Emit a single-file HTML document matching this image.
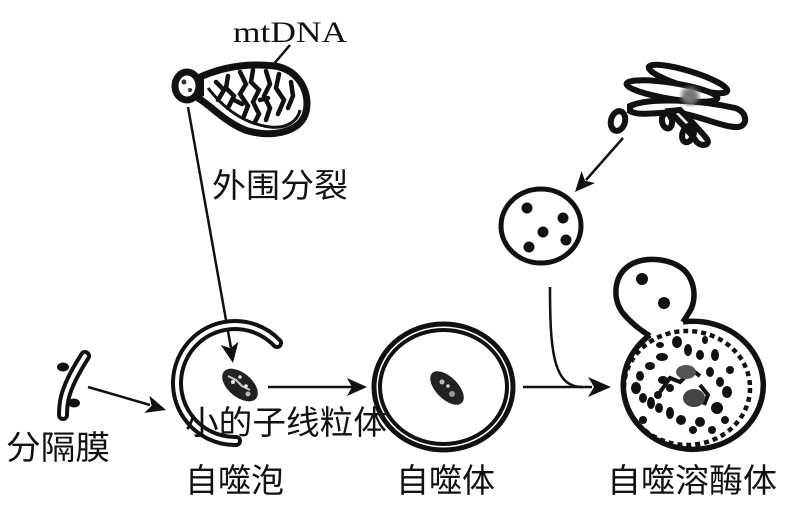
<!DOCTYPE html>
<html><head><meta charset="utf-8"><style>
html,body{margin:0;padding:0;background:#fff;}
svg{display:block;}
.cj{font-family:"Liberation Sans","Noto Sans CJK SC",sans-serif;font-size:33px;fill:#111;}
</style></head><body>
<svg width="785" height="509" viewBox="0 0 785 509" xmlns="http://www.w3.org/2000/svg">
<defs><filter id="bl2"><feGaussianBlur stdDeviation="2.5"/></filter></defs>

<!-- mtDNA label -->
<text x="233" y="42" textLength="114" lengthAdjust="spacingAndGlyphs" style="font-family:'Liberation Serif',serif;font-size:30px;fill:#111">mtDNA</text>
<line x1="290" y1="45" x2="267" y2="72" stroke="#111" stroke-width="2.5"/>

<!-- Mitochondrion -->
<g>
<path d="M198 78 C215 70 240 62 275 66 C300 70 312 95 305 115 C298 133 270 138 245 130 C225 122 210 105 198 98 Z" fill="#fff" stroke="#111" stroke-width="7"/>
<path d="M208 88 C225 110 245 124 270 127 C288 129 298 120 300 110" fill="none" stroke="#111" stroke-width="3"/>
<g stroke="#111" stroke-width="4.5" fill="none" stroke-linecap="round">
<path d="M216 82 L224 90 L218 100"/>
<path d="M228 76 L226 88 L234 96 L228 108"/>
<path d="M240 72 L246 84 L240 94 L248 106 L244 116"/>
<path d="M253 70 L251 82 L259 90 L253 102 L259 114 L255 122"/>
<path d="M266 71 L270 84 L264 96 L270 108 L266 120"/>
<path d="M279 74 L276 88 L284 100 L278 114"/>
<path d="M291 82 L293 96 L288 108"/>
<path d="M234 100 L242 104"/><path d="M260 100 L268 98"/>
</g>
<ellipse cx="187" cy="86" rx="12" ry="14" fill="#fff" stroke="#111" stroke-width="7"/>
<path d="M196 76 L204 79 L204 96 L196 99" fill="#111"/>
<circle cx="184" cy="82" r="2.5" fill="#333"/><circle cx="190" cy="90" r="2" fill="#333"/>
</g>
<line x1="188" y1="107" x2="231" y2="348" stroke="#111" stroke-width="2.5"/>
<polygon points="233,363 238.4,341.7 230.4,348.2 220.7,344.9" fill="#111"/>

<text class="cj" x="212" y="197" textLength="136" lengthAdjust="spacingAndGlyphs">外围分裂</text>

<!-- Golgi -->
<g fill="none" stroke="#111" stroke-width="6">
<ellipse cx="688" cy="79" rx="41" ry="8" transform="rotate(17 688 79)" fill="#fff"/>
<ellipse cx="672" cy="91" rx="46" ry="8" transform="rotate(9 672 91)" fill="#fff"/>
<path d="M630 106 C650 97 700 100 735 108 C748 112 748 126 738 127 C725 128 700 116 680 113 C660 111 640 117 630 111 Z" fill="#fff"/>
<path d="M680 110 C690 120 700 130 707 139 C711 146 700 147 696 141 C688 129 676 119 670 111 Z" fill="#fff"/>
<ellipse cx="618" cy="121" rx="7" ry="10" transform="rotate(15 618 121)"/>
<ellipse cx="667" cy="121" rx="5" ry="7.5" transform="rotate(-10 667 121)"/>
<ellipse cx="688" cy="134" rx="5.5" ry="8.5" transform="rotate(20 688 134)"/>
</g>
<circle cx="690" cy="96" r="9" fill="#777" filter="url(#bl2)"/>
<line x1="623" y1="138" x2="586" y2="180" stroke="#111" stroke-width="2.5"/>
<polygon points="575,192 581.6,171 585,180.8 595,183" fill="#111"/>

<!-- Lysosome -->
<ellipse cx="541" cy="226" rx="40" ry="37" fill="#fff" stroke="#111" stroke-width="5"/>
<circle cx="527" cy="208" r="5.5" fill="#111"/><circle cx="563" cy="218" r="5.5" fill="#111"/>
<circle cx="543" cy="232" r="5.5" fill="#111"/><circle cx="566" cy="240" r="5.5" fill="#111"/>
<circle cx="529" cy="247" r="5.5" fill="#111"/>

<!-- curve from lysosome -->
<path d="M550 287 C550 350 553 387 582 387" fill="none" stroke="#111" stroke-width="2.5"/>

<!-- isolation membrane fragment -->
<g>
<path d="M85 356 C76 370 68 385 65 397 C63 405 63 411 63 415" fill="none" stroke="#111" stroke-width="12" stroke-linecap="round"/>
<path d="M85 356 C76 370 68 385 65 397 C63 405 63 411 63 415" fill="none" stroke="#fff" stroke-width="4" stroke-linecap="round"/>
<ellipse cx="63" cy="367" rx="6" ry="4.5" fill="#111"/>
<ellipse cx="74" cy="403" rx="6" ry="4.5" fill="#111"/>
</g>
<line x1="88" y1="387" x2="150" y2="405" stroke="#111" stroke-width="2.5"/>
<polygon points="166,410 149.4,395.7 151.6,405.8 144.3,412.9" fill="#111"/>
<text class="cj" x="6" y="459" textLength="104" lengthAdjust="spacingAndGlyphs">分隔膜</text>

<!-- phagophore -->
<g>
<path d="M277 343 A58 58 0 1 0 236 441" fill="none" stroke="#111" stroke-width="12" stroke-linecap="round"/>
<path d="M277 343 A58 58 0 1 0 236 441" fill="none" stroke="#fff" stroke-width="4" stroke-linecap="round"/>
</g>
<g>
<ellipse cx="240" cy="385" rx="21" ry="12" transform="rotate(40 240 385)" fill="#222"/>
<path d="M228 376 L236 380 L242 386 L250 390" stroke="#ccc" stroke-width="2" fill="none"/>
<circle cx="233" cy="382" r="2" fill="#eee"/><circle cx="248" cy="394" r="2.5" fill="#bbb"/>
<circle cx="240" cy="377" r="1.8" fill="#ddd"/><circle cx="246" cy="386" r="1.8" fill="#eee"/>
</g>
<text class="cj" x="185" y="434" textLength="202" lengthAdjust="spacingAndGlyphs">小的子线粒体</text>
<line x1="268" y1="387" x2="352" y2="387" stroke="#111" stroke-width="2.5"/>
<polygon points="367,387 347,378 352,387 347,396" fill="#111"/>
<text class="cj" x="185" y="492" textLength="99" lengthAdjust="spacingAndGlyphs">自噬泡</text>

<!-- autophagosome -->
<g>
<ellipse cx="443.5" cy="387" rx="69.5" ry="63" fill="none" stroke="#111" stroke-width="5"/>
<ellipse cx="443.5" cy="387" rx="63.5" ry="57" fill="none" stroke="#111" stroke-width="4"/>
<ellipse cx="447" cy="388" rx="21" ry="11" transform="rotate(45 447 388)" fill="#222"/>
<circle cx="442" cy="382" r="2.5" fill="#bbb"/><circle cx="452" cy="394" r="3" fill="#999"/>
<circle cx="448" cy="386" r="1.8" fill="#ccc"/>
</g>
<text class="cj" x="396" y="492" textLength="99" lengthAdjust="spacingAndGlyphs">自噬体</text>
<line x1="523" y1="387" x2="592" y2="387" stroke="#111" stroke-width="2.5"/>
<polygon points="611,387 588,377 594,387 588,397" fill="#111"/>

<!-- autolysosome -->
<g>
<path d="M683 322 A70 64 0 1 1 650 335" fill="#fff" stroke="#111" stroke-width="5.5"/>
<path d="M650 336 C640 330 630 322 622 312 C612 297 614 275 630 265 C645 256 670 258 684 270 C696 282 697 302 688 314 C686 318 684 320 683 322" fill="#fff" stroke="#111" stroke-width="5.5"/>
<path d="M653 332 L681 325" stroke="#fff" stroke-width="7"/>
<circle cx="642" cy="279" r="6" fill="#111"/><circle cx="664" cy="303" r="6" fill="#111"/>
<ellipse cx="687" cy="388" rx="63" ry="57" fill="none" stroke="#111" stroke-width="4.5" stroke-dasharray="5 4"/>
<g fill="#111">
<ellipse cx="677" cy="342" rx="5" ry="6"/><ellipse cx="688" cy="350" rx="4" ry="6"/>
<ellipse cx="700" cy="355" rx="4" ry="5"/><ellipse cx="662" cy="357" rx="6" ry="4"/>
<ellipse cx="650" cy="366" rx="5" ry="4"/><ellipse cx="640" cy="376" rx="4" ry="5"/>
<ellipse cx="636" cy="388" rx="5" ry="6"/><ellipse cx="643" cy="398" rx="4" ry="5"/>
<ellipse cx="651" cy="403" rx="4" ry="6"/><ellipse cx="659" cy="408" rx="4" ry="5"/>
<ellipse cx="670" cy="413" rx="4" ry="6"/><ellipse cx="681" cy="420" rx="5" ry="5"/>
<ellipse cx="700" cy="422" rx="5" ry="5"/><ellipse cx="717" cy="408" rx="6" ry="6"/>
<ellipse cx="727" cy="392" rx="5" ry="6"/><ellipse cx="720" cy="382" rx="4" ry="5"/>
<ellipse cx="710" cy="372" rx="4" ry="5"/><ellipse cx="715" cy="355" rx="4" ry="6"/>
<ellipse cx="663" cy="380" rx="5" ry="4"/><ellipse cx="670" cy="388" rx="4" ry="4"/>
<ellipse cx="658" cy="395" rx="4" ry="4"/><ellipse cx="705" cy="340" rx="3" ry="4"/>
<ellipse cx="693" cy="430" rx="4" ry="4"/><ellipse cx="712" cy="430" rx="4" ry="4"/>
<ellipse cx="730" cy="370" rx="4" ry="4"/><ellipse cx="643" cy="420" rx="4" ry="4"/>
<ellipse cx="725" cy="420" rx="4" ry="4"/><ellipse cx="660" cy="345" rx="4" ry="3"/>
</g>
<path d="M660 392 L670 378 L680 382 L692 370 L700 376" fill="none" stroke="#111" stroke-width="4"/>
<path d="M700 385 L708 395 L704 405" fill="none" stroke="#111" stroke-width="4"/>
<ellipse cx="686" cy="372" rx="10" ry="7" fill="#555"/>
<ellipse cx="694" cy="398" rx="11" ry="9" fill="#444"/>
</g>
<text class="cj" x="607" y="492" textLength="170" lengthAdjust="spacingAndGlyphs">自噬溶酶体</text>
</svg>
</body></html>
